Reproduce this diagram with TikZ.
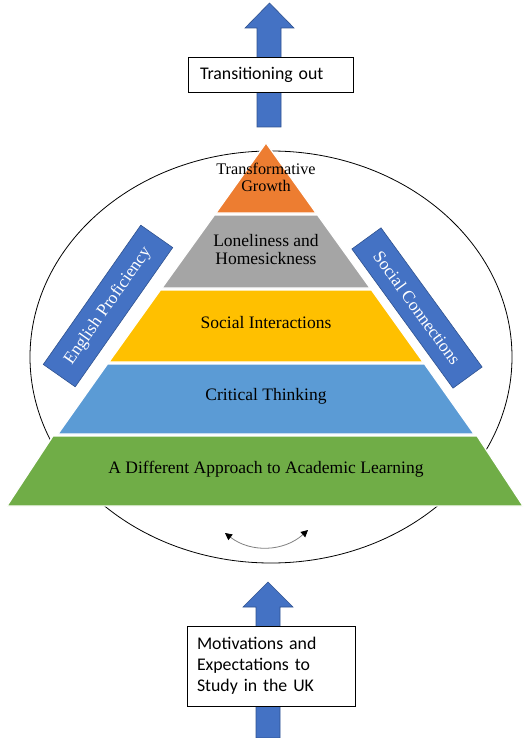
\documentclass[tikz,border=0pt]{standalone}
\usepackage{fontspec}
\setmainfont{Liberation Serif}
\newfontfamily\boxfont{Carlito}
\usetikzlibrary{arrows.meta}
\definecolor{arrowblue}{RGB}{68,114,196}
\definecolor{arrowedge}{RGB}{47,82,143}
\definecolor{tierorange}{RGB}{237,125,49}
\definecolor{tiergray}{RGB}{165,165,165}
\definecolor{tieryellow}{RGB}{255,192,0}
\definecolor{tierblue}{RGB}{91,155,213}
\definecolor{tiergreen}{RGB}{112,173,71}

\begin{document}
\begin{tikzpicture}[x=1pt, y=-1pt,
        tier/.style={draw=white, line width=1.2pt},
        tiertext/.style={align=center, font=\fontsize{17.5}{18}\selectfont},
        blockarrow/.style={fill=arrowblue, draw=arrowedge, line width=.6pt},
        stagebox/.style={draw, fill=white, line width=.8pt, align=left,
            font=\boxfont\fontsize{17.8}{21}\selectfont},
        sidebar/.style={draw=arrowedge, fill=arrowblue, text=white, line width=.6pt,
            font=\fontsize{17.5}{18}\selectfont}]
        \useasboundingbox (0,0) rectangle (524,738);

        % outer circle behind the pyramid
        \draw[line width=.8pt] (271,357) ellipse (241 and 206);

        % arrow out at the top
        \draw[blockarrow] (257,127) -- (257,28) -- (245,28) -- (269.5,3) -- (294,28) -- (281,28) -- (281,127) -- cycle;
        \node[stagebox, minimum width=165, minimum height=35, text width=141, inner xsep=12] (out) at (270.5,74.5) {Transitioning out};

        % pyramid tiers
        \draw[tier, fill=tierorange] (266,143) -- (316,213) -- (216,213) -- cycle;
        \draw[tier, fill=tiergray] (214.5,215) -- (317.5,215) -- (370,288) -- (162,288) -- cycle;
        \draw[tier, fill=tieryellow] (160.5,290) -- (371.5,290) -- (423,362) -- (109,362) -- cycle;
        \draw[tier, fill=tierblue] (107.5,364) -- (424.5,364) -- (474,434) -- (58,434) -- cycle;
        \draw[tier, fill=tiergreen] (53,436) -- (477,436) -- (523,506) -- (7,506) -- cycle;

        \node[tiertext, font=\fontsize{16.2}{17}\selectfont] (growth) at (266,177) {Transformative\\Growth};
        \node[tiertext] (lonely) at (266,250) {Loneliness and\\Homesickness};
        \node[tiertext] (social) at (266,323) {Social Interactions};
        \node[tiertext] (critical) at (266,396) {Critical Thinking};
        \node[tiertext] (academic) at (266,469) {A Different Approach to Academic Learning};

        % side bars
        \node[sidebar, minimum width=170, minimum height=39, rotate=55] (english) at (108,306) {English Proficiency};
        \node[sidebar, minimum width=172, minimum height=36, rotate=-54] (connect) at (417,308) {Social Connections};

        % swing arrow under the pyramid
        \coordinate (swingL) at (225,533);
        \coordinate (swingR) at (308,530);
        \draw[gray, line width=.8pt, {Triangle[black,length=7pt,width=7pt]}-{Triangle[black,length=7pt,width=7pt]}] (swingL) to[bend right=40] (swingR);

        % arrow in at the bottom
        \draw[blockarrow] (256,738) -- (256,607) -- (243,607) -- (268,582) -- (293,607) -- (280,607) -- (280,738) -- cycle;
        \node[stagebox, minimum width=168, minimum height=80, text width=148, inner xsep=10] (motiv) at (271,666) {Motivations and\\Expectations to\\Study in the UK};
\end{tikzpicture}
\end{document}
